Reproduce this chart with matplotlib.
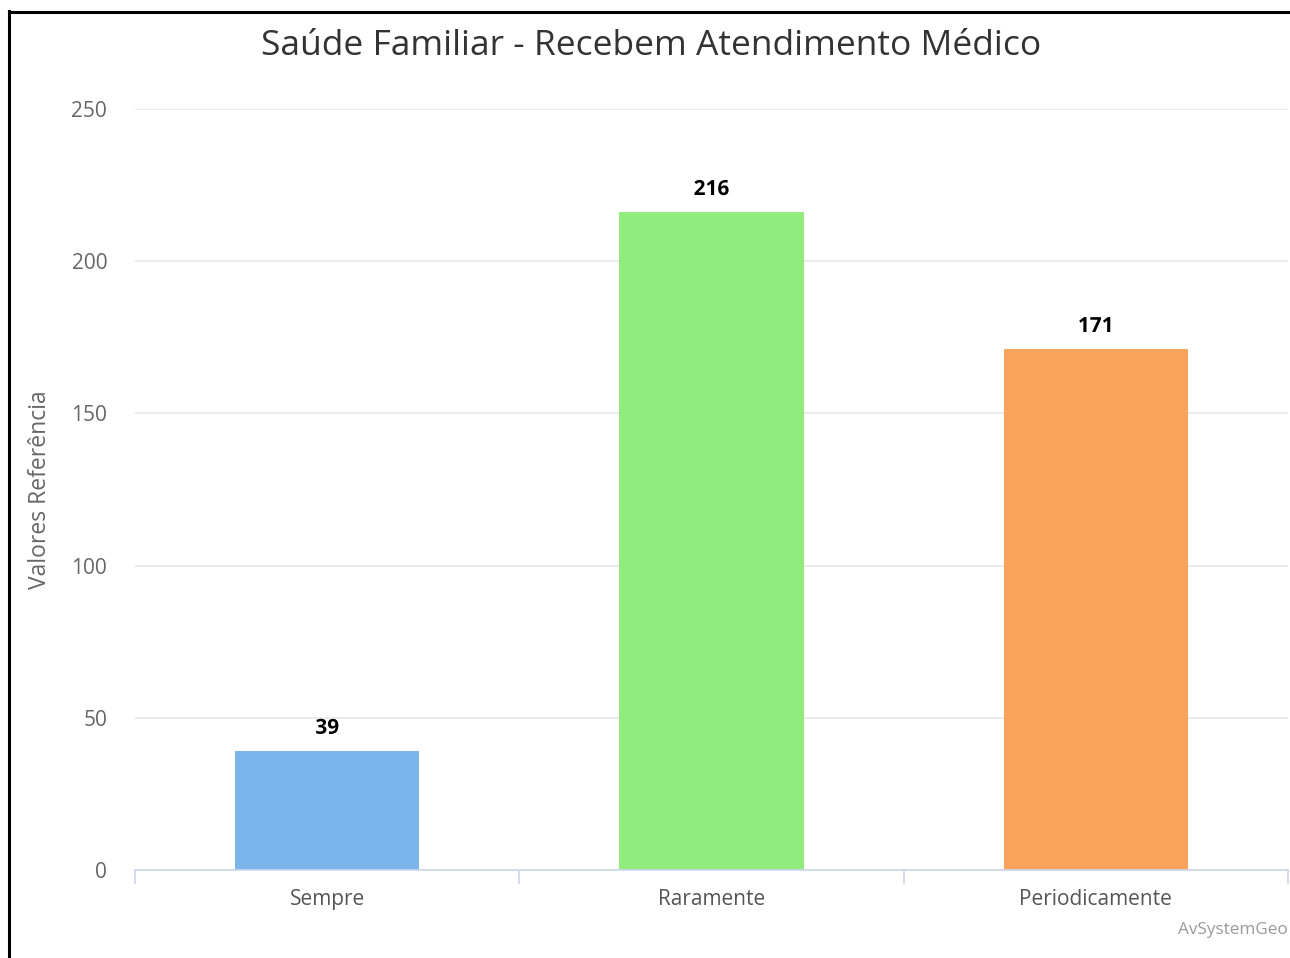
import matplotlib
matplotlib.use("Agg")
import matplotlib.pyplot as plt
from matplotlib.lines import Line2D
import matplotlib.patheffects as pe

# dados do gráfico
categorias = ["Sempre", "Raramente", "Periodicamente"]
valores = [39, 216, 171]
cores = ["#7cb5ec", "#90ed7d", "#f7a35c"]
yticks = [0, 50, 100, 150, 200, 250]

titulo = "Saúde Familiar - Recebem Atendimento Médico"
rotulo_y = "Valores Referência"
creditos = "AvSystemGeo"

plt.rcParams["font.family"] = ["Open Sans", "DejaVu Sans"]

W, H = 1290, 958
fig = plt.figure(figsize=(W / 100, H / 100), dpi=100)
ax = fig.add_axes([135 / W, 1 - 870 / H, (1288 - 135) / W, (870 - 109) / H])

x = list(range(len(categorias)))
ax.bar(x, valores, width=0.48, color=cores, zorder=2)

for xi, v in zip(x, valores):
    ax.annotate(str(v), (xi, v), xytext=(0, 9), textcoords="offset points",
                ha="center", va="bottom", fontsize=15, fontweight="bold",
                color="black",
                path_effects=[pe.withStroke(linewidth=1.5, foreground="white")])

ax.set_xlim(-0.5, len(categorias) - 0.5)
ax.set_ylim(0, 250)
ax.set_yticks(yticks)
ax.set_yticklabels([str(t) for t in yticks], fontsize=15, color="#666666")
ax.tick_params(axis="y", length=0, pad=20)
ax.grid(axis="y", color="#e6e6e6", linewidth=1.2, zorder=0)

# ticks nas divisas das categorias
ax.set_xticks([i - 0.5 for i in range(len(categorias) + 1)])
ax.set_xticklabels([])
ax.set_xticks(x, minor=True)
ax.set_xticklabels(categorias, minor=True, fontsize=15, color="#555555")
ax.tick_params(axis="x", which="major", length=10, color="#ccd6eb", width=1.2)
ax.tick_params(axis="x", which="minor", length=0, pad=14)

for s in ["top", "right", "left"]:
    ax.spines[s].set_visible(False)
ax.spines["bottom"].set_color("#ccd6eb")
ax.spines["bottom"].set_linewidth(1.2)

ax.set_ylabel(rotulo_y, fontsize=16.5, color="#666666", labelpad=14)

fig.text(651 / W, 1 - 46 / H, titulo, ha="center", va="center",
         fontsize=25.5, color="#333333")
fig.text(1288 / W, 1 - 930 / H, creditos, ha="right", va="center",
         fontsize=12.3, color="#999999")

# moldura preta (esquerda e topo)
fig.add_artist(Line2D([9 / W, 9 / W], [0, 1 - 11 / H], color="black",
                      linewidth=2.2, transform=fig.transFigure))
fig.add_artist(Line2D([9 / W, 1], [1 - 12 / H, 1 - 12 / H], color="black",
                      linewidth=2.2, transform=fig.transFigure))

fig.savefig("out.png", dpi=100, facecolor="white")
